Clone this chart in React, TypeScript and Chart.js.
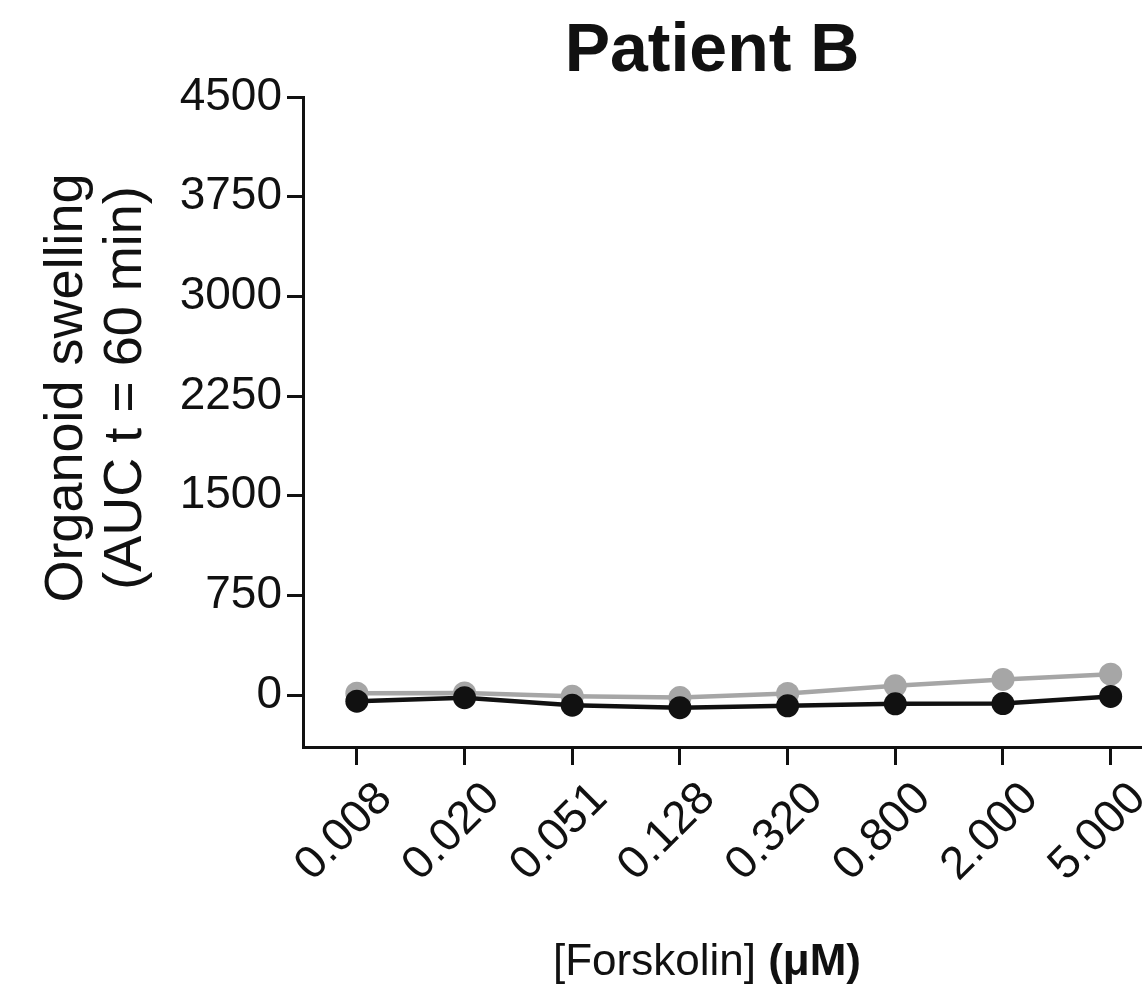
import React, { useEffect, useRef } from "react";
import { Chart, registerables } from "chart.js";

Chart.register(...registerables);

const categories = ["0.008", "0.020", "0.051", "0.128", "0.320", "0.800", "2.000", "5.000"];
const blackSeries = [-45, -19, -75, -94, -80, -65, -63, -10];
const graySeries = [15, 17, -8, -18, 13, 70, 118, 158];
const yTickValues = [0, 750, 1500, 2250, 3000, 3750, 4500];
const chartTitle = "Patient B";
const yTitleLines = ["Organoid swelling", "(AUC t = 60 min)"];
const xTitleMain = "[Forskolin] ";
const xTitleUnit = "(\u03bcM)";

const FAMILY = '"Liberation Sans", Arial, Helvetica, sans-serif';
const INK = "#111111";
const GRAY = "#a6a6a6";

const textPlugin = {
  id: "customTexts",
  afterDraw(chart: any) {
    const ctx = chart.ctx as CanvasRenderingContext2D;
    ctx.save();
    ctx.fillStyle = INK;
    ctx.textBaseline = "alphabetic";

    // Title
    ctx.font = `bold 68px ${FAMILY}`;
    ctx.textAlign = "center";
    ctx.fillText(chartTitle, 712, 71);

    // Y axis title (two rotated lines)
    ctx.font = `54px ${FAMILY}`;
    const baseXs = [82, 141];
    yTitleLines.forEach((line, i) => {
      ctx.save();
      ctx.translate(baseXs[i], 388);
      ctx.rotate(-Math.PI / 2);
      ctx.textAlign = "center";
      ctx.fillText(line, 0, 0);
      ctx.restore();
    });

    // X axis title with bold unit
    ctx.textAlign = "left";
    ctx.font = `44px ${FAMILY}`;
    const w1 = ctx.measureText(xTitleMain).width;
    ctx.font = `bold 44px ${FAMILY}`;
    const w2 = ctx.measureText(xTitleUnit).width;
    const start = 707 - (w1 + w2) / 2;
    ctx.font = `44px ${FAMILY}`;
    ctx.fillText(xTitleMain, start, 975);
    ctx.font = `bold 44px ${FAMILY}`;
    ctx.fillText(xTitleUnit, start + w1, 975);
    ctx.restore();
  },
};

export default function App() {
  const canvasRef = useRef<HTMLCanvasElement | null>(null);

  useEffect(() => {
    const canvas = canvasRef.current;
    if (!canvas) return;
    const chart = new Chart(canvas, {
      type: "line",
      data: {
        labels: categories,
        datasets: [
          {
            label: "black",
            data: blackSeries,
            borderColor: INK,
            backgroundColor: INK,
            borderWidth: 4.5,
            pointRadius: 11.5,
            pointBorderWidth: 0,
            pointBackgroundColor: INK,
            tension: 0,
          },
          {
            label: "gray",
            data: graySeries,
            borderColor: GRAY,
            backgroundColor: GRAY,
            borderWidth: 4.5,
            pointRadius: 11.5,
            pointBorderWidth: 0,
            pointBackgroundColor: GRAY,
            tension: 0,
          },
        ],
      },
      options: {
        responsive: false,
        animation: false,
        layout: { padding: { top: 97, right: 7, left: 0, bottom: 0 } },
        plugins: {
          legend: { display: false },
          tooltip: { enabled: false },
          title: { display: false },
        },
        scales: {
          x: {
            type: "category",
            offset: true,
            afterFit: (s: any) => {
              s.height = 238;
            },
            grid: {
              display: true,
              drawOnChartArea: false,
              drawTicks: true,
              offset: false,
              tickLength: 18,
              tickWidth: 3,
              lineWidth: 3,
              color: INK,
            },
            border: { display: true, color: INK, width: 3 },
            ticks: {
              color: INK,
              font: { family: FAMILY, size: 46 },
              minRotation: 45,
              maxRotation: 45,
              padding: 7,
              labelOffset: 28,
              autoSkip: false,
            },
          },
          y: {
            type: "linear",
            min: -390,
            max: 4500,
            afterBuildTicks: (s: any) => {
              s.ticks = yTickValues.map((v) => ({ value: v }));
            },
            afterFit: (s: any) => {
              s.width = 303;
            },
            grid: {
              display: true,
              drawOnChartArea: false,
              drawTicks: true,
              tickLength: 16,
              tickWidth: 3,
              lineWidth: 3,
              color: INK,
            },
            border: { display: true, color: INK, width: 3 },
            ticks: {
              color: INK,
              font: { family: FAMILY, size: 46 },
              padding: 5,
              callback: (v: any) => String(v),
            },
          },
        },
      },
      plugins: [textPlugin],
    });
    return () => chart.destroy();
  }, []);

  return (
    <div
      style={{
        position: "fixed",
        left: 0,
        top: 0,
        width: 1142,
        height: 985,
        overflow: "hidden",
        background: "#fff",
      }}
    >
      <canvas ref={canvasRef} width={1176} height={985} />
    </div>
  );
}
